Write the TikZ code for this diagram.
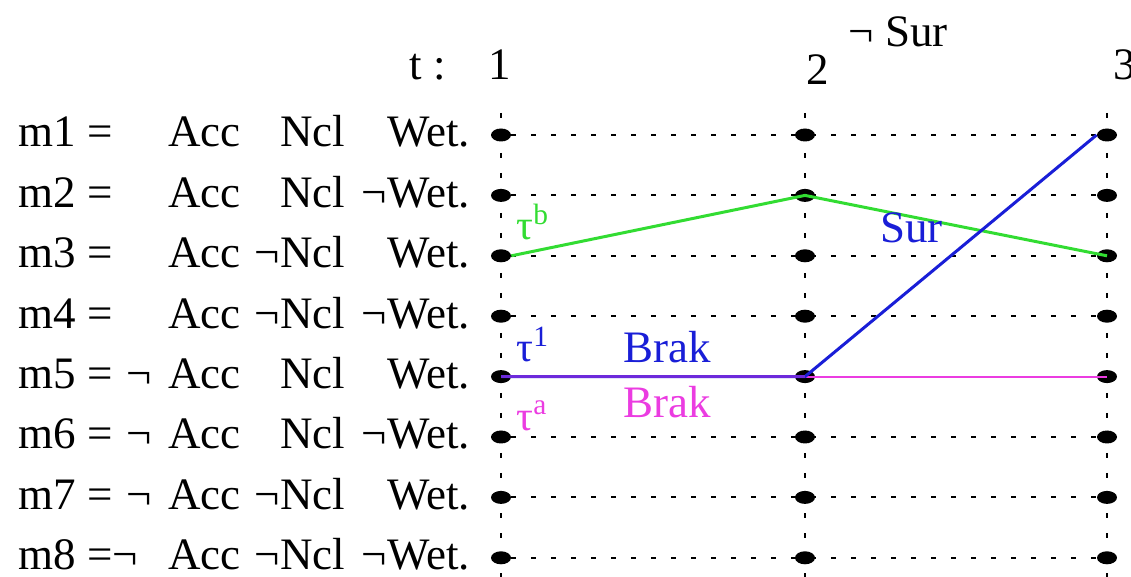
\documentclass[tikz,border=0pt]{standalone}
\usepackage{fontspec}
\setmainfont{Liberation Serif}
\newfontfamily\modelfont{Liberation Serif}
\usetikzlibrary{shapes.geometric, backgrounds}

\definecolor{trgreen}{RGB}{50,220,50}
\definecolor{trblue}{RGB}{25,30,215}
\definecolor{trmag}{RGB}{235,60,225}

\tikzset{
  lbl/.style={inner sep=0pt, font=\modelfont\fontsize{22.5}{27}\selectfont},
  taulbl/.style={inner sep=0pt, font=\modelfont\fontsize{21}{24}\selectfont},
  gdot/.style={ellipse, fill=black, inner sep=0pt, minimum width=10pt, minimum height=6.5pt},
  gridline/.style={line width=1pt, dash pattern=on 2.5pt off 7.5pt},
}

\begin{document}
\begin{tikzpicture}[x=0.5pt, y=-0.5pt]
  \useasboundingbox (0,0) rectangle (1131,577);

  % states at each time
  \foreach \c/\x in {1/501, 2/805, 3/1107}
    \foreach \r in {1,...,8}
      \node[gdot] (d\r-\c) at (\x, {135+60.4*(\r-1)}) {};

  \begin{scope}[on background layer]
    \foreach \c/\x in {1/501, 2/805, 3/1107} {
      \coordinate (top\c) at (\x,113);
      \coordinate (bot\c) at (\x,577);
      \draw[gridline] (top\c) -- (bot\c);
    }
    \foreach \r in {1,...,8}
      \draw[gridline] (d\r-1) -- (d\r-3);
  \end{scope}

  % time axis
  \node[lbl, anchor=base east] (tlab) at (446,80) {t :};
  \node[lbl, anchor=base] (t1) at (500,80) {1};
  \node[lbl, anchor=base] (t2) at (818,85) {2};
  \node[lbl, anchor=base west] (t3) at (1113,80) {3};
  \node[lbl, anchor=base west] (nsur) at (848,47) {¬ Sur};

  % models
  \foreach \r/\eq/\na/\nn/\nw in {1/{m1 =}/{}/{}/{}, 2/{m2 =}/{}/{}/¬,
      3/{m3 =}/{}/¬/{}, 4/{m4 =}/{}/¬/¬, 5/{m5 =}/¬/{}/{},
      6/{m6 =}/¬/{}/¬, 7/{m7 =}/¬/¬/{}, 8/{m8 =¬}/{}/¬/¬}
  {
    \pgfmathsetmacro\yb{147+60.4*(\r-1)}
    \node[lbl, anchor=base west] (m\r) at (18,\yb) {\eq};
    \node[lbl, anchor=base west] (acc\r) at (168,\yb) {Acc};
    \node[lbl, anchor=base west] (ncl\r) at (280,\yb) {Ncl};
    \node[lbl, anchor=base west] (wet\r) at (387,\yb) {Wet.};
    \node[lbl, anchor=base east] (nacc\r) at ([xshift=-8pt]acc\r.base west) {\na};
    \node[lbl, anchor=base east] (nncl\r) at (ncl\r.base west) {\nn};
    \node[lbl, anchor=base east] (nwet\r) at (wet\r.base west) {\nw};
  }

  % trajectories
  \draw[trgreen, line width=1.5pt] (d3-1.east) -- (d2-2.center) -- (d3-3.center);
  \draw[trmag, line width=1pt] (d5-1.center) -- (d5-3.center);
  \draw[trblue, line width=1.5pt] (d5-1.center) -- (d5-2.center) -- (d1-3.west);
  \draw[trmag, line width=1.5pt, opacity=0.4] (d5-1.center) -- (d5-2.center);

  \node[taulbl, text=trgreen, anchor=base west] (taub) at (516,240) {τ\textsuperscript{b}};
  \node[taulbl, text=trblue, anchor=base west] (tau1) at (516,362) {τ\textsuperscript{1}};
  \node[taulbl, text=trmag, anchor=base west] (taua) at (516,430) {τ\textsuperscript{a}};
  \node[lbl, text=trblue, anchor=base west] (brak1) at (623,363) {Brak};
  \node[lbl, text=trmag, anchor=base west] (braka) at (623,418) {Brak};
  \node[lbl, text=trblue, anchor=base west] (sur) at (880,243) {Sur};
\end{tikzpicture}
\end{document}
